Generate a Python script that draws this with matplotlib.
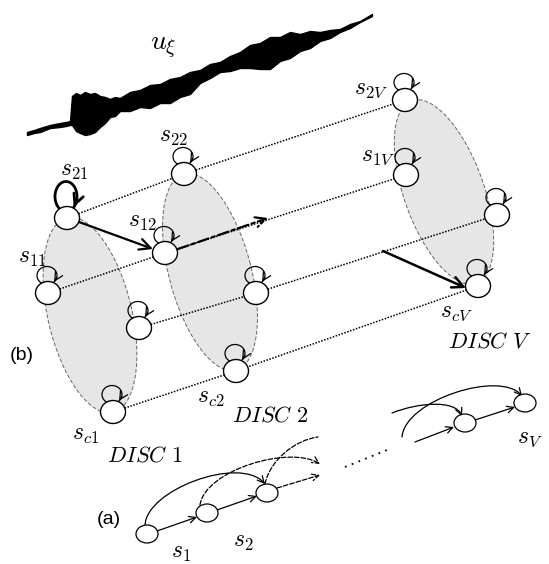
import numpy as np
import matplotlib
matplotlib.use("Agg")
import matplotlib.pyplot as plt
from matplotlib.patches import Ellipse, FancyArrowPatch
from matplotlib.path import Path

plt.rcParams['mathtext.fontset'] = 'cm'

# waveform envelope (image pixel coords)
wave_x = [27, 34, 40, 50, 60, 66, 70, 72, 76, 80, 85, 90, 95, 100, 105, 110, 115, 120, 130, 140, 150,
          160, 170, 180, 190, 200, 210, 220, 230, 240, 250, 260, 270, 280, 290, 300, 310, 320, 330,
          340, 350, 360, 372]
wave_top = [132, 130, 128, 125, 123, 122, 121, 96, 93, 95, 92, 94, 93, 96, 97, 99, 97, 98, 92, 90, 85,
            84, 79, 77, 72, 70, 64, 62, 56, 52, 45, 43, 37, 37, 32, 34, 31, 32, 30, 29, 24, 21, 14]
wave_bot = [135, 133, 132, 128, 127, 126, 125, 125, 131, 133, 135, 134, 132, 127, 123, 117, 116, 111, 111, 107, 108,
            103, 103, 97, 94, 83, 78, 72, 71, 68, 68, 69, 69, 61, 58, 51, 48, 41, 38, 32, 28, 22, 16]

# disc nodes (centre x, y) grouped by disc: [s2, s1, right, sc]
disc_nodes = {
    'DISC 1': [(67, 218), (48, 293), (139, 328), (113, 412)],
    'DISC 2': [(184, 174), (165, 253), (256, 293), (236, 371)],
    'DISC V': [(405, 100), (406, 175), (497, 215), (478, 286)],
}
# disc ellipses: centre, major, minor, angle
disc_shapes = {
    'DISC 1': ((90, 315), 200, 84, 76.7),
    'DISC 2': ((210, 272), 203, 82, 75.1),
    'DISC V': ((444, 192), 194, 80, 70.5),
}
node_labels = [
    (r'$s_{21}$', 74, 170), (r'$s_{11}$', 32, 257), (r'$s_{c1}$', 86, 434),
    (r'$s_{22}$', 173, 136), (r'$s_{12}$', 142, 221), (r'$s_{c2}$', 211, 397),
    (r'$s_{2V}$', 371, 88), (r'$s_{1V}$', 378, 155), (r'$s_{cV}$', 456, 311),
]
disc_text = [('DISC 1', 145, 456), ('DISC 2', 270, 415), ('DISC V', 490, 342)]

# chain (a)
chain_nodes = [(147, 534), (207, 513), (267, 493), (465, 423), (525, 403)]
chain_labels = [(r'$s_1$', 181, 552), (r'$s_2$', 243, 541), (r'$s_V$', 530, 437)]

fig = plt.figure(figsize=(5.49, 5.64), dpi=100)
ax = fig.add_axes([0, 0, 1, 1])
ax.set_xlim(0, 549)
ax.set_ylim(564, 0)
ax.axis('off')

# waveform
ax.fill_between(wave_x, wave_top, wave_bot, facecolor='black', edgecolor='black', lw=1.0)
ax.text(163, 47, r'$u_\xi$', fontsize=20, ha='center', va='center')

# discs
for name, (c, w, h, ang) in disc_shapes.items():
    ax.add_patch(Ellipse(c, w, h, angle=ang, facecolor='#e6e6e6', edgecolor='#666666',
                         lw=0.7, ls=(0, (4, 2)), zorder=1))

# dotted lines between corresponding nodes
names = list(disc_nodes)
for k in range(4):
    xs = [disc_nodes[n][k][0] for n in names]
    ys = [disc_nodes[n][k][1] for n in names]
    ax.plot(xs, ys, color='black', lw=1.1, ls=(0, (1, 1)), zorder=2)

# dash-dot arrow from s12
ax.annotate('', xy=(268, 218), xytext=(178, 249),
            arrowprops=dict(arrowstyle='->', lw=1.6, ls=(0, (5, 1.5, 1.5, 1.5)),
                            mutation_scale=18, shrinkA=0, shrinkB=0), zorder=3)
# solid arrows
ax.annotate('', xy=(153, 249), xytext=(79, 222),
            arrowprops=dict(arrowstyle='->', lw=1.6, mutation_scale=20, shrinkA=0, shrinkB=0), zorder=3)
ax.annotate('', xy=(466, 288), xytext=(383, 251),
            arrowprops=dict(arrowstyle='->', lw=1.8, mutation_scale=20, shrinkA=0, shrinkB=0), zorder=3)

rx, ry = 12.5, 11.5


def self_loop(x, y, a=10, b=9, lw=0.9, ms=15, lift=3):
    # loop drawn behind the node, arrow tip on the node outline
    cx, cy = x - 1, y - ry - b + lift
    t = np.radians(np.linspace(235, -45, 60))
    lx = cx + a * np.cos(t)
    ly = cy - b * np.sin(t)
    ax.plot(lx, ly, color='black', lw=lw, zorder=3.5)
    ax.annotate('', xy=(lx[-1], ly[-1]), xytext=(lx[-8], ly[-8]),
                arrowprops=dict(arrowstyle='->', lw=lw, mutation_scale=ms, shrinkA=0, shrinkB=0),
                zorder=5)


for name in names:
    for i, (x, y) in enumerate(disc_nodes[name]):
        ax.add_patch(Ellipse((x, y), 2 * rx, 2 * ry, facecolor='white', edgecolor='black', lw=1.0, zorder=4))
        if name == 'DISC 1' and i == 0:
            self_loop(x, y, a=11, b=15, lw=2.0, ms=18, lift=5)
        else:
            self_loop(x, y)

for s, x, y in node_labels:
    ax.text(x, y, s, fontsize=17, ha='center', va='center')
for s, x, y in disc_text:
    ax.text(x, y, r'$\mathit{' + s.replace(' ', r'\ ') + '}$', fontsize=16, ha='center', va='center')

ax.text(22, 356, '(b)', fontsize=14, family='Liberation Sans', ha='center', va='center')
ax.text(109, 519, '(a)', fontsize=14, family='Liberation Sans', ha='center', va='center')

# chain (a)
for x, y in chain_nodes:
    ax.add_patch(Ellipse((x, y), 22, 18, facecolor='white', edgecolor='black', lw=0.9, zorder=4))
for s, x, y in chain_labels:
    ax.text(x, y, s, fontsize=17, ha='center', va='center')

straight = [((157, 531), (197, 517), '-'), ((217, 510), (257, 496), '-'),
            ((277, 488), (320, 475), '--'), ((415, 442), (454, 427), '-'),
            ((475, 420), (515, 407), '-')]
for p0, p1, ls in straight:
    ax.annotate('', xy=p1, xytext=p0,
                arrowprops=dict(arrowstyle='->', lw=0.9, ls=ls, mutation_scale=12, shrinkA=0, shrinkB=0),
                zorder=3)

curves = [
    ([(145, 526), (145, 490), (240, 455), (265, 484)], '-', '->'),
    ([(200, 505), (205, 470), (290, 445), (320, 464)], '--', '->'),
    ([(265, 484), (270, 460), (295, 440), (318, 437)], '--', '-'),
    ([(402, 437), (405, 400), (500, 370), (522, 396)], '-', '->'),
    ([(392, 413), (420, 402), (455, 400), (462, 416)], '-', '->'),
]
codes = [Path.MOVETO, Path.CURVE4, Path.CURVE4, Path.CURVE4]
for pts, ls, style in curves:
    arr = FancyArrowPatch(path=Path(pts, codes), arrowstyle=style, lw=0.9, ls=ls,
                          mutation_scale=12, color='black', zorder=3)
    ax.add_patch(arr)

ax.plot([345, 387], [467, 450], color='black', lw=1.3, ls=(0, (1, 3)))

fig.savefig('out.png', dpi=100)
